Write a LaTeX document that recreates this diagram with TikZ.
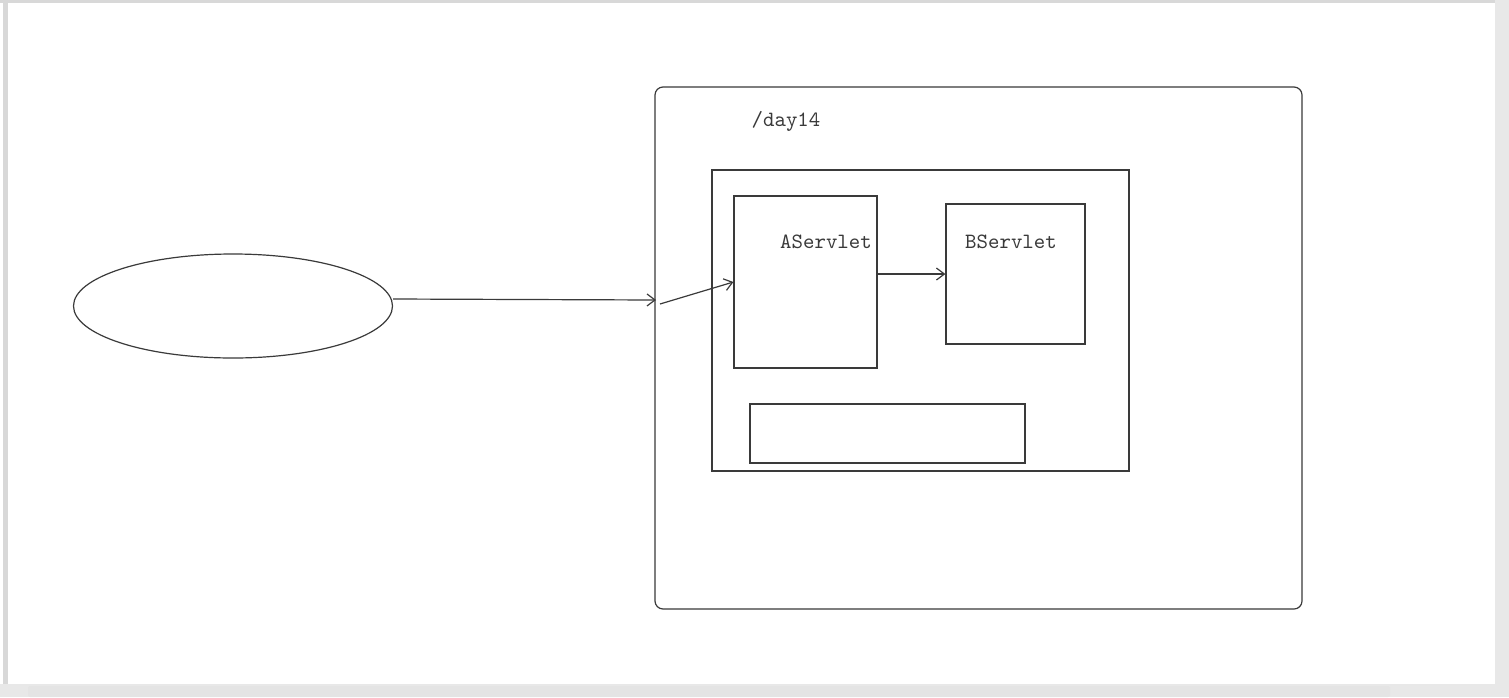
\documentclass[tikz,border=0pt]{standalone}
\usetikzlibrary{positioning,shapes.geometric,arrows.meta}
\definecolor{pen}{HTML}{3A3A3A}
\definecolor{chrome}{HTML}{D8D8D8}

\begin{document}
\begin{tikzpicture}[x=0.5pt, y=-0.5pt,
    box/.style={draw=pen, line width=0.6pt, inner sep=0pt},
    lbl/.style={font=\ttfamily\fontsize{10.9}{12}\selectfont, text=pen},
    arr/.style={draw=pen, line width=0.6pt, -{Straight Barb[length=4pt,width=6pt]}}]
    \useasboundingbox (0,0) rectangle (1509,697);

    % Window frame and scroll bars
    \fill[white] (0,0) rectangle (1509,697);
    \fill[chrome] (0,0) rectangle (1509,3);
    \fill[chrome] (3,0) rectangle (8,684);
    \fill[chrome!60] (1495,0) rectangle (1509,697);
    \fill[chrome!60] (0,684) rectangle (1509,697);
    \fill[chrome!70, rounded corners=1pt] (28,686) rectangle (1390,697);

    % Client
    \node[box, ellipse, minimum width=159.5pt, minimum height=52pt] (client) at (233,306) {};

    % Server
    \node[box, rounded corners=4pt, minimum width=323.5pt, minimum height=261pt] (server) at (978.5,348) {};
    \node[lbl] (ctx) at (786,121) {/day14};
    \node[box, minimum width=208.5pt, minimum height=150.5pt] (app) at (920.5,320.5) {};
    \node[box, minimum width=71.5pt, minimum height=86pt] (aserv) at (805.5,282) {};
    \node[lbl] (alabel) at (826,242) {AServlet};
    \node[box, minimum width=69.5pt, minimum height=70pt] (bserv) at (1015.5,274) {};
    \node[lbl] (blabel) at (1011,242) {BServlet};
    \node[box, minimum width=137.5pt, minimum height=29.5pt] (store) at (887.5,433.5) {};

    % Request path
    \coordinate (gate) at (656,300);
    \coordinate (enter) at (660,304);
    \draw[arr] ([yshift=3.5pt]client.east) -- (gate);
    \draw[arr] (enter) -- (aserv.west);
    \draw[arr] (aserv.east |- bserv.west) -- (bserv.west);
\end{tikzpicture}
\end{document}
